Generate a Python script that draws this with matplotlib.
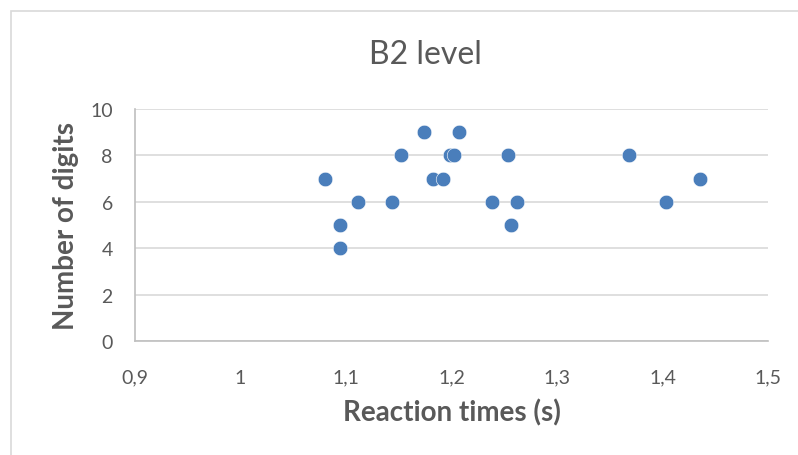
import matplotlib
matplotlib.use("Agg")
import matplotlib.pyplot as plt
from matplotlib.patches import Rectangle
from matplotlib.ticker import FuncFormatter

# reaction times (s) and number of digits
reaction_times = [1.080, 1.094, 1.094, 1.111, 1.144, 1.152, 1.174, 1.182, 1.192,
                  1.199, 1.202, 1.207, 1.238, 1.254, 1.256, 1.262, 1.368, 1.403, 1.436]
digits = [7, 5, 4, 6, 6, 8, 9, 7, 7, 8, 8, 9, 6, 8, 5, 6, 8, 6, 7]

x_ticks = [0.9, 1.0, 1.1, 1.2, 1.3, 1.4, 1.5]
y_ticks = [0, 2, 4, 6, 8, 10]

plt.rcParams['font.family'] = ['Lato', 'DejaVu Sans']
grey = '#595959'

fig = plt.figure(figsize=(7.98, 4.56), dpi=100)
# chart border (Excel style frame)
fig.patches.append(Rectangle((11/798, -0.05), 1.0, 1 - 12/456 + 0.05,
                             transform=fig.transFigure, fill=False,
                             edgecolor='#D9D9D9', linewidth=1.2))

ax = fig.add_axes([135/798, 1 - 342/456, (768 - 135)/798, (342 - 110)/456])
ax.scatter(reaction_times, digits, s=110, color='#4A7EBB', edgecolors='white',
           linewidths=0.4, zorder=3)

ax.set_xlim(0.9, 1.5)
ax.set_ylim(0, 10)
ax.set_xticks(x_ticks)
ax.set_yticks(y_ticks)
ax.xaxis.set_major_formatter(FuncFormatter(lambda v, p: ('%g' % round(v, 2)).replace('.', ',')))
ax.grid(axis='y', color='#D9D9D9', linewidth=1.2)
ax.set_axisbelow(True)
for side in ['top', 'right']:
    ax.spines[side].set_visible(False)
ax.spines['left'].set_color('#BFBFBF')
ax.spines['bottom'].set_color('#BFBFBF')
ax.spines['left'].set_linewidth(1.2)
ax.spines['bottom'].set_linewidth(1.2)
ax.tick_params(length=0, labelsize=14, labelcolor=grey)
ax.tick_params(axis='x', pad=20)
ax.tick_params(axis='y', pad=16)

fig.text(425/798, 1 - 55/456, 'B2 level', ha='center', va='center',
         fontsize=23, color=grey)
fig.text(452/798, 1 - 413/456, 'Reaction times (s)', ha='center', va='center',
         fontsize=20, fontweight='bold', color=grey)
fig.text(66/798, 1 - 226/456, 'Number of digits', ha='center', va='center',
         rotation=90, fontsize=20, fontweight='bold', color=grey)

fig.savefig('out.png', dpi=100)
